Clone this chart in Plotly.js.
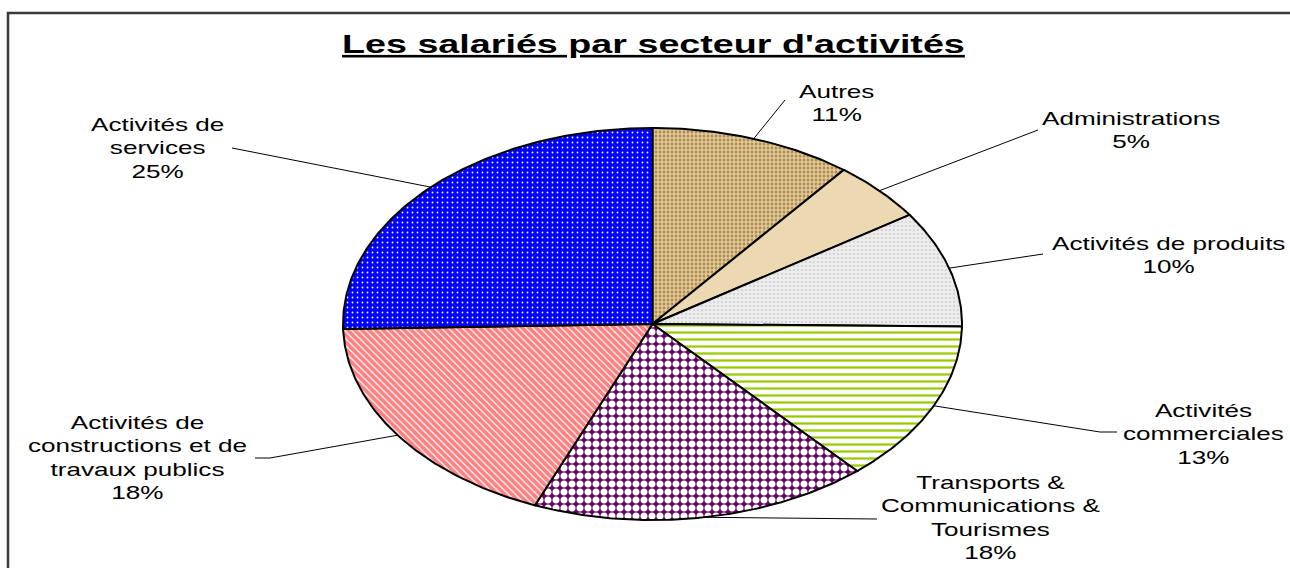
<!DOCTYPE html>
<html><head><meta charset="utf-8">
<script src="https://cdn.plot.ly/plotly-3.0.1.min.js"></script>
<style>
html,body{margin:0;padding:0;background:#fff;}
#chart{width:1290px;height:568px;}
text.annotation-text{transform:scaleX(1.45);transform-box:fill-box;transform-origin:50% 50%;}
</style></head><body><div id="chart"></div>
<script>
// ---- data ----
const categories = ["Autres", "Administrations", "Activités de produits", "Activités commerciales",
  "Transports & Communications & Tourismes", "Activités de constructions et de travaux publics", "Activités de services"];
const labelTexts = ["Autres", "Administrations", "Activités de produits", "Activités<br>commerciales",
  "Transports &<br>Communications &<br>Tourismes", "Activités de<br>constructions et de<br>travaux publics", "Activités de<br>services"];
const values = [10.6, 5.0, 9.6, 13.3, 17.7, 18.4, 25.4];
const title = "Les salariés par secteur d'activités";

// ---- styles ----
const patterns = [
  {shape: "+", bgcolor: "#b08a52", fgcolor: "#eedcaa", size: 4, solidity: 0.5},
  {shape: "", bgcolor: "#edd9b1", fgcolor: "#edd9b1", size: 6, solidity: 0.1},
  {shape: ".", bgcolor: "#ececec", fgcolor: "#b5b5b5", size: 4, solidity: 0.12},
  {shape: "-", bgcolor: "#ffffff", fgcolor: "#99cc00", size: 7, solidity: 0.32},
  {shape: ".", bgcolor: "#660066", fgcolor: "#ffffff", size: 8, solidity: 0.6},
  {shape: "\\", bgcolor: "#ff8080", fgcolor: "#ffffff", size: 5, solidity: 0.25},
  {shape: ".", bgcolor: "#0000ff", fgcolor: "#ffffff", size: 5, solidity: 0.1}
];
const fills = ["#c8a66e", "#edd9b1", "#e6e6e6", "#dfeebb", "#9c4f9c", "#ff9c9c", "#3c3cff"];
// label centres (px) and leader line end points (px)
const labelPos = [[836,104],[1131,131],[1168,255],[1203,434],[990,518],[137,458],[157,149]];
const leaderEnds = [
  [[785,100]], [[1038,130]], [[1043,254]], [[1100,432],[1117,432]],
  [[877,519]], [[270,458],[255,458]], [[232,148]]
];

const W = 1290, H = 568, cx = 652.5, cy = 324, rx = 309.5, ry = 196;
const toDX = px => (px - cx) / rx;
const toDY = py => (cy - py) / ry;

const total = values.reduce((a, b) => a + b, 0);
const traces = [];
const shapes = [];
const annotations = [];
let cum = 0;
values.forEach((v, i) => {
  const a0 = cum / total * 2 * Math.PI;
  const a1 = (cum + v) / total * 2 * Math.PI;
  const n = Math.max(8, Math.round(v * 6));
  const xs = [0], ys = [0];
  for (let k = 0; k <= n; k++) {
    const a = a0 + (a1 - a0) * k / n;
    xs.push(Math.sin(a)); ys.push(Math.cos(a));
  }
  xs.push(0); ys.push(0);
  const p = patterns[i];
  const tr = {
    type: "scatter", mode: "lines", x: xs, y: ys, fill: "toself",
    fillcolor: fills[i], line: {color: "#000", width: 2},
    hoverinfo: "skip", name: categories[i], showlegend: false
  };
  if (p.shape) tr.fillpattern = {shape: p.shape, bgcolor: p.bgcolor, fgcolor: p.fgcolor, size: p.size, solidity: p.solidity, fillmode: "replace"};
  else tr.fillcolor = p.bgcolor;
  traces.push(tr);

  const am = (a0 + a1) / 2;
  const ex = Math.sin(am), ey = Math.cos(am);
  let path = "M " + ex + "," + ey;
  leaderEnds[i].forEach(pt => { path += " L " + toDX(pt[0]) + "," + toDY(pt[1]); });
  shapes.push({type: "path", xref: "x", yref: "y", path: path, line: {color: "#000", width: 1}});

  const pct = Math.round(v / total * 100) + "%";
  annotations.push({
    xref: "paper", yref: "paper", x: labelPos[i][0] / W, y: 1 - labelPos[i][1] / H,
    xanchor: "center", yanchor: "middle", showarrow: false, align: "center",
    text: labelTexts[i] + "<br>" + pct,
    font: {family: "Liberation Sans, Arial, sans-serif", size: 18, color: "#000"}
  });
  cum += v;
});

annotations.push({
  xref: "paper", yref: "paper", x: 653 / W, y: 1 - 44 / H, xanchor: "center", yanchor: "middle",
  showarrow: false, text: title,
  font: {family: "Liberation Sans, Arial, sans-serif", size: 26, color: "#000", weight: "bold", lineposition: "under"}
});

shapes.push({type: "rect", xref: "paper", yref: "paper", x0: 8 / W, y0: 1 - 13 / H, x1: 1.02, y1: -0.02,
  line: {color: "#3a3a3a", width: 2.5}, fillcolor: "rgba(0,0,0,0)", layer: "above"});

const layout = {
  width: W, height: H, margin: {l: 0, r: 0, t: 0, b: 0},
  paper_bgcolor: "#fff", plot_bgcolor: "#fff", showlegend: false,
  xaxis: {range: [toDX(0), toDX(W)], visible: false, fixedrange: true},
  yaxis: {range: [toDY(H), toDY(0)], visible: false, fixedrange: true},
  shapes: shapes, annotations: annotations
};
Plotly.newPlot("chart", traces, layout, {staticPlot: true, displayModeBar: false});
</script></body></html>
